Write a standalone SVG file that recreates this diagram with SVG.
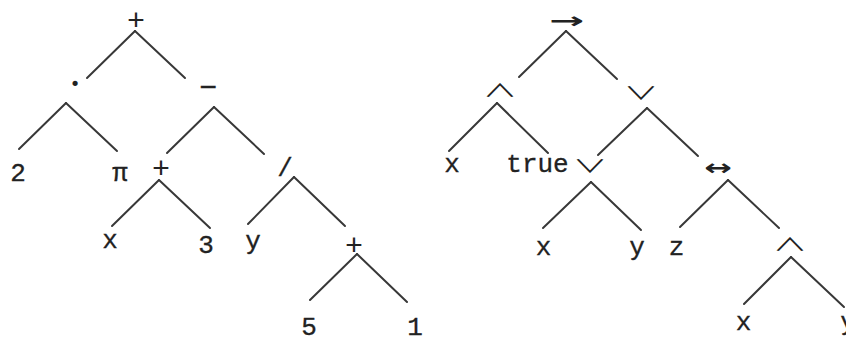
<svg xmlns="http://www.w3.org/2000/svg" width="846" height="337" viewBox="0 0 846 337">
<style>
.e{stroke:#383838;stroke-width:2;fill:none;stroke-linecap:round}
text{fill:#222;text-anchor:middle}
.m{font-family:"Liberation Mono","Courier New",monospace;font-size:26px;stroke:#222;stroke-width:0.3}
.p{font-family:"Liberation Mono","Courier New",monospace;font-size:30px}
.s{font-family:"Noto Sans CJK JP","DejaVu Sans",sans-serif;font-size:30px;font-weight:400}
.a{font-family:"DejaVu Sans",sans-serif;font-size:22px;font-weight:bold}
</style>
<rect width="846" height="337" fill="#fff"/>
<g id="connectors">
<line class="e" x1="135" y1="31" x2="87" y2="78"/><line class="e" x1="135" y1="31" x2="185" y2="78"/>
<line class="e" x1="66" y1="103" x2="19" y2="149"/><line class="e" x1="66" y1="103" x2="117" y2="151"/>
<line class="e" x1="214" y1="107" x2="167" y2="153"/><line class="e" x1="214" y1="107" x2="264" y2="154"/>
<line class="e" x1="159" y1="180" x2="112" y2="226"/><line class="e" x1="159" y1="180" x2="210" y2="228"/>
<line class="e" x1="294" y1="177" x2="248" y2="224"/><line class="e" x1="294" y1="177" x2="345" y2="226"/>
<line class="e" x1="357" y1="254" x2="310" y2="300"/><line class="e" x1="357" y1="254" x2="407" y2="302"/>
<line class="e" x1="566" y1="31" x2="519" y2="77"/><line class="e" x1="566" y1="31" x2="617" y2="79"/>
<line class="e" x1="497" y1="103" x2="449" y2="151"/><line class="e" x1="497" y1="103" x2="548" y2="153"/>
<line class="e" x1="647" y1="108" x2="598" y2="155"/><line class="e" x1="647" y1="108" x2="698" y2="156"/>
<line class="e" x1="591" y1="182" x2="543" y2="228"/><line class="e" x1="591" y1="182" x2="641" y2="230"/>
<line class="e" x1="728" y1="180" x2="680" y2="227"/><line class="e" x1="728" y1="180" x2="779" y2="228"/>
<line class="e" x1="791" y1="257" x2="744" y2="304"/><line class="e" x1="791" y1="257" x2="844" y2="307"/>
</g>
<g id="L-root"><text class="p" x="136" y="30">+</text></g>
<g id="L-times"><text x="75" y="98" style="font-family:'Liberation Serif',serif;font-size:44px">·</text></g>
<g id="L-minus"><text class="m" x="208" y="97" style="font-size:30px">−</text></g>
<g id="L-2"><text class="m" x="18" y="181">2</text></g>
<g id="L-pi"><text class="m" x="120" y="181">π</text></g>
<g id="L-plus2"><text class="p" x="161" y="178">+</text></g>
<g id="L-x"><text class="m" x="110" y="248">x</text></g>
<g id="L-3"><text class="m" x="206" y="253">3</text></g>
<g id="L-div"><text class="m" x="285" y="176">/</text></g>
<g id="L-y"><text class="m" x="253" y="249">y</text></g>
<g id="L-plus3"><text class="p" x="354" y="255">+</text></g>
<g id="L-5"><text class="m" x="309" y="335">5</text></g>
<g id="L-1"><text class="m" x="415" y="335">1</text></g>
<g id="R-root"><text class="a" transform="translate(567,28) scale(1.9,1)">→</text></g>
<g id="R-and1"><text class="s" transform="translate(500,97) scale(1.15,0.6)">∧</text></g>
<g id="R-or1"><text class="s" transform="translate(641,100) scale(1.15,0.6)">∨</text></g>
<g id="R-x1"><text class="m" x="452" y="172">x</text></g>
<g id="R-true"><text class="m" x="537.5" y="172">true</text></g>
<g id="R-or2"><text class="s" transform="translate(590,173) scale(1.15,0.6)">∨</text></g>
<g id="R-iff"><text class="a" transform="translate(718,175) scale(1.5,1)">↔</text></g>
<g id="R-x2"><text class="m" x="543.5" y="255">x</text></g>
<g id="R-y1"><text class="m" x="637" y="255">y</text></g>
<g id="R-z"><text class="m" x="676.5" y="255">z</text></g>
<g id="R-and2"><text class="s" transform="translate(790,251) scale(1.15,0.6)">∧</text></g>
<g id="R-x3"><text class="m" x="743.5" y="330">x</text></g>
<g id="R-y2"><text class="m" x="848" y="330">y</text></g>
</svg>
